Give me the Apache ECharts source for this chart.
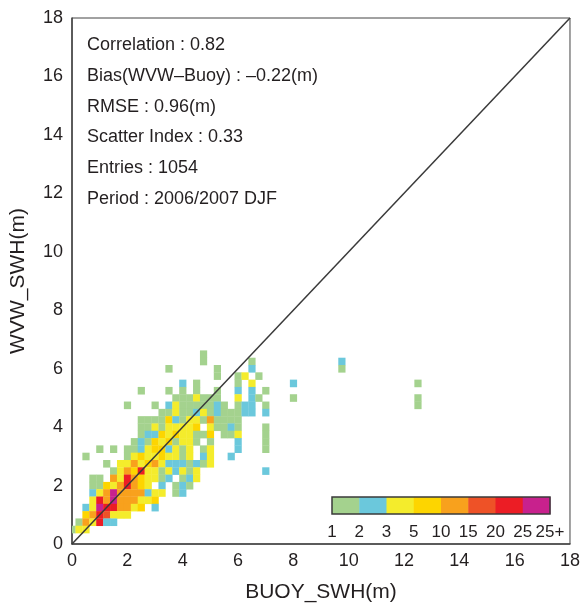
<!DOCTYPE html>
<html>
<head>
<meta charset="utf-8">
<script src="https://cdn.jsdelivr.net/npm/echarts@6/dist/echarts.min.js"></script>
<style>
html,body{margin:0;padding:0;background:#fff;}
#chart{width:583px;height:608px;}
</style>
</head>
<body>
<div id="chart"></div>
<script>
// ---- data ----
const binSize = 0.25;                 // bin width (m), cells centred on multiples
const gridTopRow = 26;                // first grid row = 26 * 0.25 = 6.5 m
// density class per cell (0..8); rows from y=6.5 down to y=0, columns x=0..7
const gridRows = [
  "..... ..... ..... ....1 ..... ....",
  "..... ..... ..... ....1 ..... .1..",
  "..... ..... ....1 ..... .1... .2..",
  "..... ..... ..... ..... .1..1 3.1.",
  "..... ..... ..... .2.1. ....1 .3..",
  "..... ..... 1...1 .1.1. .1..2 .2.1",
  "..... ..... ..... 11131 11..3 .21.",
  "..... ...1. ..1.2 31111 121.1 22.1",
  "..... ..... ...11 31123 12111 22.2",
  "..... ..... 11114 21331 51111 ....",
  "..... ..... 11313 3334. 31121 ...1",
  "..... ..... 12243 43311 4.113 ...1",
  "..... ....1 21434 1331. 1...2 ...1",
  "....1 .1.11 23442 313.1 3...2 ...1",
  "..1.. ...13 43343 313.2 3..2. ....",
  "..... 1.335 34532 22121 3.... ....",
  "..... .1354 73313 2313. ..... ...2",
  "...11 .5375 43312 .123. ..... ....",
  "...11 43575 43.2. 121.. ..... ....",
  "...23 58555 5233. 12... ..... ....",
  "...37 58555 334.. ..... ..... ....",
  "..238 77553 4.2.. ..... ..... ....",
  "..457 6333. ..... ..... ..... ....",
  ".1537 22... ..... ..... ..... ....",
  "133.. ..... ..... ..... ..... ...."
];
// isolated cells beyond the grid: [x, y, class]
const outlierCells = [
  [8.0, 5.5, 2], [8.0, 5.0, 1],
  [9.75, 6.25, 2], [9.75, 6.0, 1],
  [12.5, 5.5, 1], [12.5, 5.0, 1], [12.5, 4.75, 1]
];
// representative count for each density class
const classCounts = [0, 1, 2, 4, 7, 12, 17, 22, 28];
const classBounds = [1, 2, 3, 5, 10, 15, 20, 25];
const classColors = ['#a4d28e', '#6bc8dc', '#f4ec2c', '#fdd500', '#f8a11d', '#ee5227', '#ec1d25', '#c8218d'];
const colorbarLabels = ['1', '2', '3', '5', '10', '15', '20', '25', '25+'];
const diagonalLine = [[0, 0], [18, 18]];
const axisMin = 0, axisMax = 18, axisStep = 2;
const statsLines = [
  'Correlation : 0.82',
  'Bias(WVW\u2013Buoy) : \u20130.22(m)',
  'RMSE : 0.96(m)',
  'Scatter Index : 0.33',
  'Entries : 1054',
  'Period : 2006/2007 DJF'
];

// ---- build series data ----
const cells = [];
gridRows.forEach(function (row, r) {
  const s = row.replace(/ /g, '');
  const m = gridTopRow - r;
  for (let k = 0; k < s.length; k++) {
    const c = s.charAt(k);
    if (c !== '.') cells.push([k * binSize, m * binSize, classCounts[+c]]);
  }
});
outlierCells.forEach(function (o) { cells.push([o[0], o[1], classCounts[o[2]]]); });

const pieces = classBounds.map(function (b, i) {
  const p = { gte: b, color: classColors[i] };
  if (i < classBounds.length - 1) p.lt = classBounds[i + 1];
  return p;
});

const FONT = '"Liberation Sans", Arial, Helvetica, sans-serif';
const TXT = '#231f20';

// ---- graphic: stats text + colour bar ----
const graphics = [];
const statsY = [45, 76, 107, 137, 168, 199];
statsLines.forEach(function (t, i) {
  graphics.push({
    type: 'text', x: 87, y: statsY[i], silent: true,
    style: { text: t, fill: TXT, font: '18px ' + FONT, verticalAlign: 'middle', align: 'left' }
  });
});
const cbX = 332, cbY = 497, cbW = 218, cbH = 17;
const segW = cbW / classColors.length;
classColors.forEach(function (col, i) {
  graphics.push({
    type: 'rect', silent: true,
    shape: { x: cbX + i * segW, y: cbY, width: segW + 0.5, height: cbH },
    style: { fill: col }
  });
});
graphics.push({
  type: 'rect', silent: true,
  shape: { x: cbX, y: cbY, width: cbW, height: cbH },
  style: { fill: 'none', stroke: '#3a3a3a', lineWidth: 1.5 }
});
colorbarLabels.forEach(function (t, i) {
  graphics.push({
    type: 'text', silent: true, x: cbX + i * segW, y: 532,
    style: { text: t, fill: TXT, font: '17px ' + FONT, align: 'center', verticalAlign: 'middle' }
  });
});

const chart = echarts.init(document.getElementById('chart'), null, { renderer: 'canvas' });
const axisCommon = {
  type: 'value', min: axisMin, max: axisMax, interval: axisStep,
  axisLine: { show: true, lineStyle: { color: '#444', width: 1.5 } },
  axisTick: { show: false },
  splitLine: { show: false },
  axisLabel: { color: TXT, fontSize: 18, fontFamily: FONT },
  nameLocation: 'middle',
  nameTextStyle: { color: TXT, fontSize: 21, fontFamily: FONT }
};
chart.setOption({
  animation: false,
  backgroundColor: '#fff',
  grid: { left: 72, right: 13, top: 18, bottom: 60, show: true, borderColor: '#444', borderWidth: 1, backgroundColor: 'transparent' },
  xAxis: Object.assign({}, axisCommon, {
    name: 'BUOY_SWH(m)', nameGap: 38,
    axisLabel: Object.assign({}, axisCommon.axisLabel, { margin: 8 })
  }),
  yAxis: Object.assign({}, axisCommon, {
    name: 'WVW_SWH(m)', nameGap: 43,
    axisLabel: Object.assign({}, axisCommon.axisLabel, { margin: 9 })
  }),
  visualMap: { show: false, type: 'piecewise', dimension: 2, seriesIndex: 0, pieces: pieces },
  series: [
    {
      type: 'custom',
      data: cells,
      clip: true,
      encode: { x: 0, y: 1 },
      renderItem: function (params, api) {
        const x = api.value(0), y = api.value(1), h = binSize / 2;
        const p1 = api.coord([x - h, y + h]);
        const p2 = api.coord([x + h, y - h]);
        return {
          type: 'rect',
          shape: { x: p1[0], y: p1[1], width: p2[0] - p1[0] + 0.3, height: p2[1] - p1[1] + 0.3 },
          style: { fill: api.visual('color') }
        };
      },
      z: 2
    },
    {
      type: 'line', data: diagonalLine, symbol: 'none', silent: true,
      lineStyle: { color: '#3a3a3a', width: 1.5 }, z: 3
    }
  ],
  graphic: graphics
});
</script>
</body>
</html>
